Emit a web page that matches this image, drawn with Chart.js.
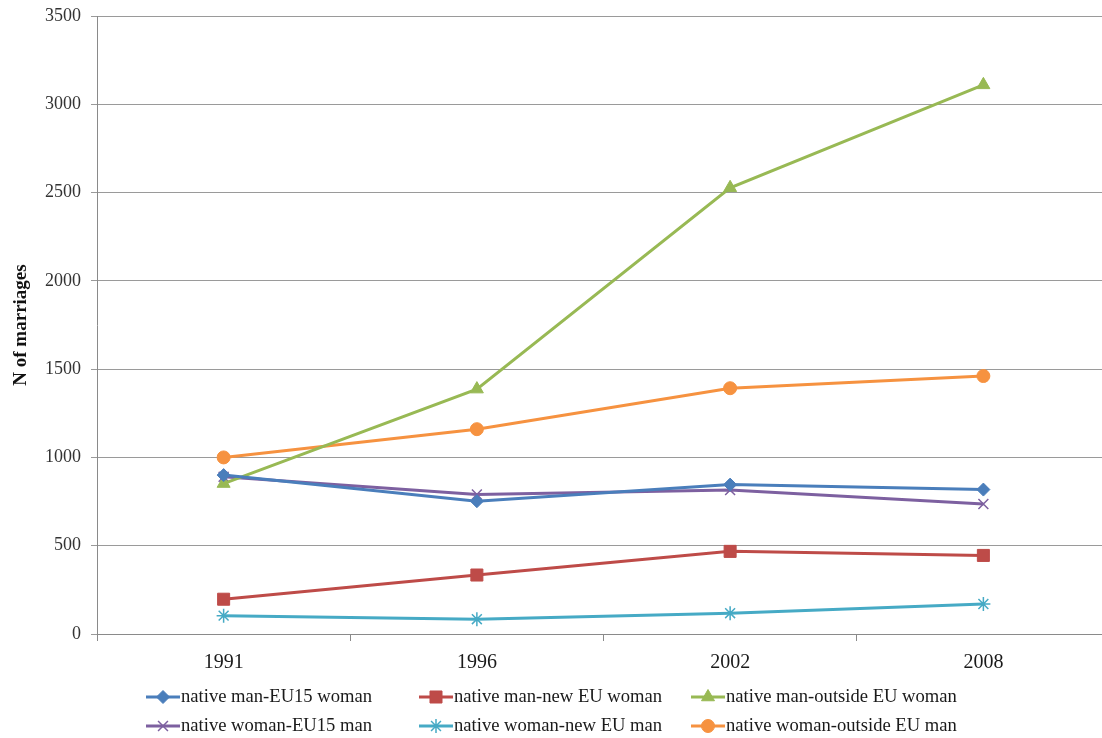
<!DOCTYPE html>
<html>
<head>
<meta charset="utf-8">
<script src="https://cdn.jsdelivr.net/npm/chart.js@4/dist/chart.umd.min.js"></script>
<style>
  html, body { margin: 0; padding: 0; background: #fff; overflow: hidden; }
  #marriagesChart { display: block; }
</style>
</head>
<body>
<!-- a little wider than the window: the original plot box runs past the right edge -->
<canvas id="marriagesChart" width="1112" height="738"></canvas>
<script>
var years = ['1991', '1996', '2002', '2008'];
var yTicks = [0, 500, 1000, 1500, 2000, 2500, 3000, 3500];

var manEU15Woman = [900, 752, 846, 818];
var manNewEUWoman = [197, 334, 468, 445];
var manOutsideEUWoman = [852, 1387, 2527, 3110];
var womanEU15Man = [890, 790, 815, 736];
var womanNewEUMan = [104, 84, 118, 170];
var womanOutsideEUMan = [1000, 1160, 1392, 1461];

var seriesNames = [
  'native man-EU15 woman', 'native man-new EU woman', 'native man-outside EU woman',
  'native woman-EU15 man', 'native woman-new EU man', 'native woman-outside EU man'
];

var serif = "'Liberation Serif', 'Times New Roman', serif";

function line(label, data, color, style, radius, bw) {
  return {
    label: label,
    data: data,
    borderColor: color,
    backgroundColor: color,
    borderWidth: 3,
    pointStyle: style,
    pointRadius: radius,
    pointHoverRadius: radius,
    pointBorderWidth: bw,
    pointBorderColor: color,
    pointBackgroundColor: color,
    tension: 0
  };
}

// no extra label padding, so the plot box sits exactly where the layout says
function noPadding(scale) {
  scale.paddingLeft = 0;
  scale.paddingRight = 0;
  scale.paddingTop = 0;
  scale.paddingBottom = 0;
}

// legend drawn in a 3x2 grid below the axis, like the original
var legendGrid = {
  id: 'legendGrid',
  afterDraw: function (chart) {
    var ctx = chart.ctx;
    var colX = [146, 419, 691];
    var rowY = [697, 726];
    ctx.save();
    chart.data.datasets.forEach(function (ds, i) {
      var x = colX[i % 3];
      var y = rowY[Math.floor(i / 3)];
      ctx.strokeStyle = ds.borderColor;
      ctx.fillStyle = ds.borderColor;
      ctx.lineWidth = 3;
      ctx.beginPath();
      ctx.moveTo(x, y);
      ctx.lineTo(x + 34, y);
      ctx.stroke();
      ctx.lineWidth = ds.pointBorderWidth;
      Chart.helpers.drawPoint(ctx, {
        pointStyle: ds.pointStyle,
        radius: ds.pointRadius,
        rotation: 0,
        borderWidth: ds.pointBorderWidth
      }, x + 17, y);
      ctx.fillStyle = '#1a1a1a';
      ctx.font = '18.6px ' + serif;
      ctx.textBaseline = 'middle';
      ctx.textAlign = 'left';
      ctx.fillText(ds.label, x + 35, y);
    });
    ctx.restore();
  }
};

new Chart(document.getElementById('marriagesChart'), {
  type: 'line',
  data: {
    labels: years,
    datasets: [
      line(seriesNames[0], manEU15Woman, '#4a7ebb', 'rectRot', 6.5, 1),
      line(seriesNames[1], manNewEUWoman, '#be4b48', 'rect', 8.5, 1),
      line(seriesNames[2], manOutsideEUWoman, '#98b954', 'triangle', 7.5, 1),
      line(seriesNames[3], womanEU15Man, '#7d60a0', 'crossRot', 7, 1.5),
      line(seriesNames[4], womanNewEUMan, '#46aac5', 'star', 7, 1.5),
      line(seriesNames[5], womanOutsideEUMan, '#f69240', 'circle', 6.5, 1)
    ]
  },
  options: {
    responsive: false,
    animation: false,
    layout: { autoPadding: false, padding: { top: 16, left: 0, right: 2, bottom: 0 } },
    plugins: {
      legend: { display: false },
      tooltip: { enabled: false }
    },
    scales: {
      x: {
        offset: true,
        afterFit: function (scale) { scale.height = 104; noPadding(scale); },
        border: { color: '#8a8a8a', width: 1 },
        grid: { offset: true, drawOnChartArea: false, drawTicks: true, tickLength: 7, color: '#8a8a8a' },
        ticks: { color: '#1a1a1a', padding: 10, font: { family: serif, size: 20 } }
      },
      y: {
        min: 0,
        max: 3500,
        afterFit: function (scale) { scale.width = 97; noPadding(scale); },
        afterBuildTicks: function (scale) {
          scale.ticks = yTicks.map(function (v) { return { value: v }; });
        },
        border: { color: '#8a8a8a', width: 1 },
        grid: { color: '#9a9a9a', lineWidth: 1, tickLength: 6 },
        ticks: {
          color: '#333',
          padding: 10,
          font: { family: serif, size: 18 },
          callback: function (v) { return String(v); }
        },
        title: {
          display: true,
          text: 'N of marriages',
          color: '#111',
          padding: { top: 10, bottom: 0 },
          font: { family: serif, size: 19, weight: 'bold' }
        }
      }
    }
  },
  plugins: [legendGrid]
});
</script>
</body>
</html>
